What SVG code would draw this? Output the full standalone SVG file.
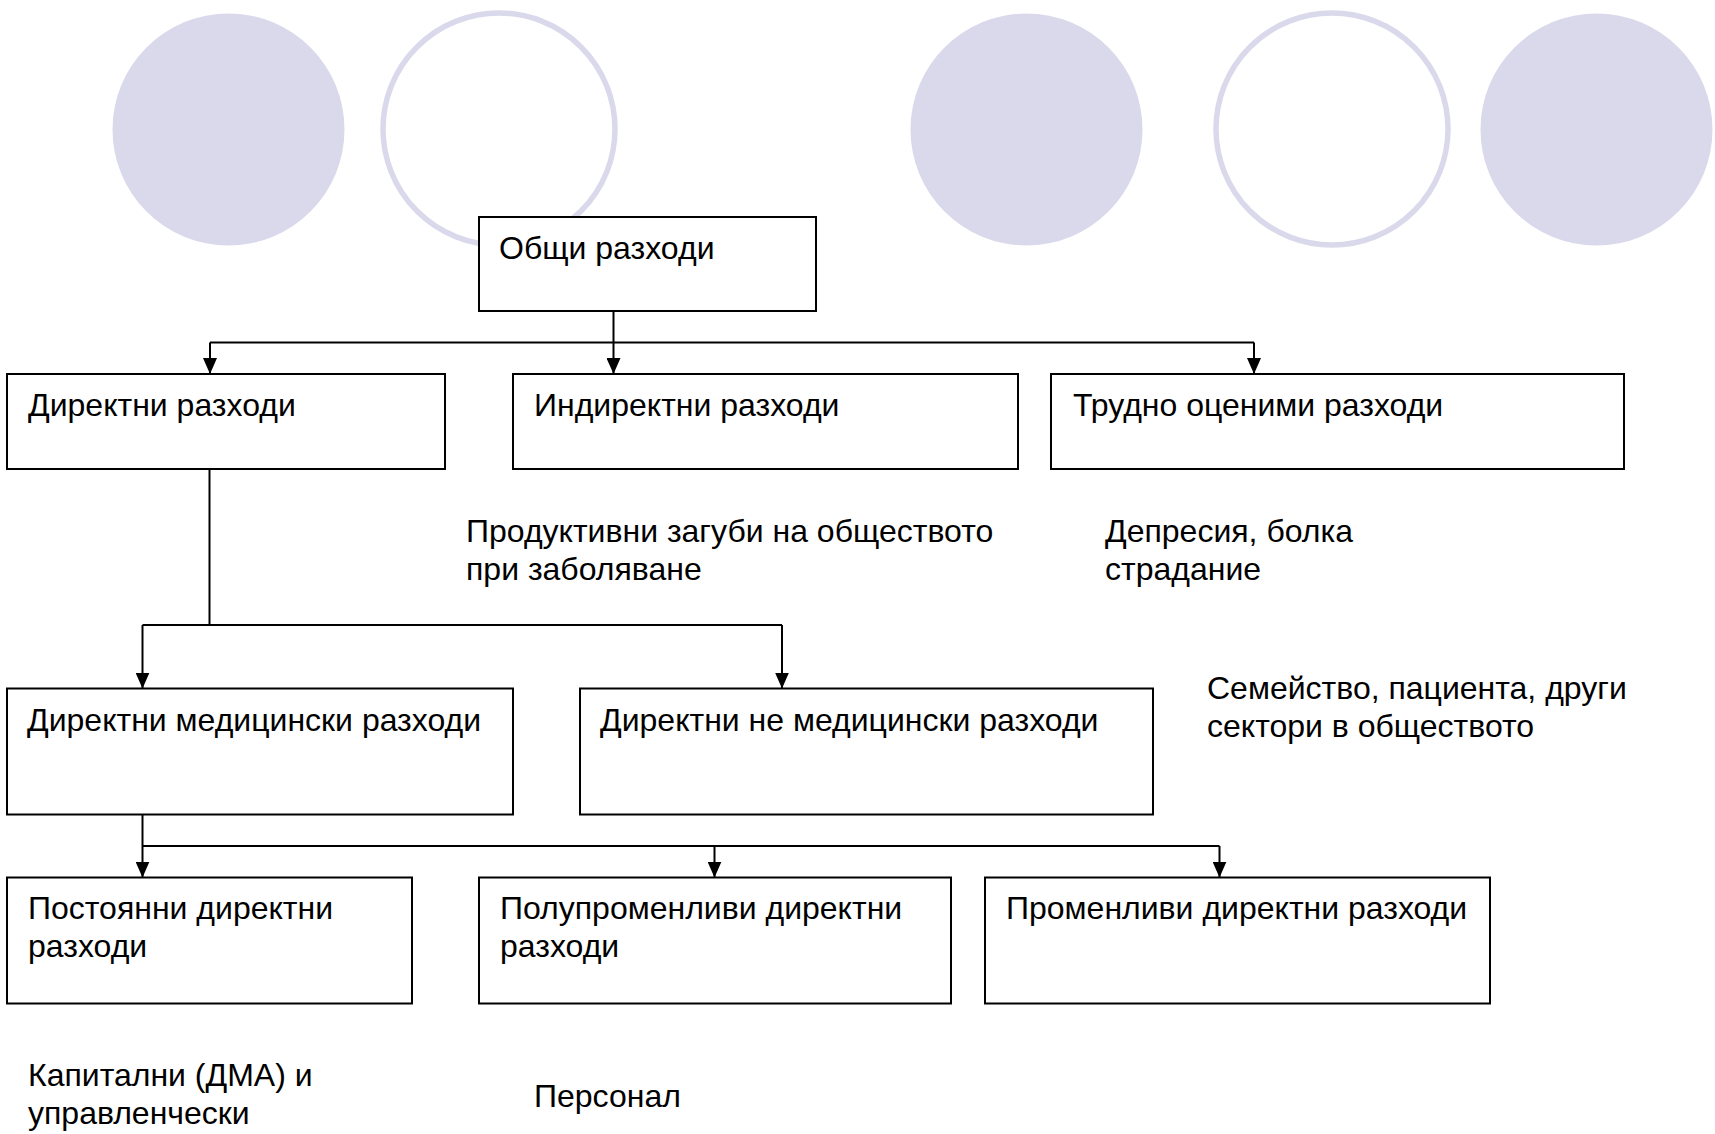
<svg xmlns="http://www.w3.org/2000/svg" width="1715" height="1134" viewBox="0 0 1715 1134">
<defs>
<style>
.bg{fill:#ffffff}
.dot{fill:#dad9ec}
.ring{fill:none;stroke:#dad9ec;stroke-width:5.5}
.box{fill:#ffffff;stroke:#000000;stroke-width:2}
.t{font-family:"Liberation Sans",Arial,sans-serif;font-size:32px;fill:#000000}
.c{fill:none;stroke:#000000;stroke-width:2}
</style>
<marker id="arr" markerUnits="userSpaceOnUse" markerWidth="16" markerHeight="14" refX="16" refY="7" orient="auto">
<path d="M0,0 L16,7 L0,14 z" fill="#000000"/>
</marker>
</defs>
<rect class="bg" x="0" y="0" width="1715" height="1134"/>
<g id="decor">
<circle class="dot" cx="228.5" cy="129.5" r="116"/>
<circle class="ring" cx="499" cy="129" r="116"/>
<circle class="dot" cx="1026.5" cy="129.5" r="116"/>
<circle class="ring" cx="1332" cy="129" r="116"/>
<circle class="dot" cx="1596.5" cy="129.5" r="116"/>
</g>
<g id="connectors">
<path class="c" d="M613.5,311 V342.5"/>
<path class="c" d="M210,342.5 H1254"/>
<path class="c" d="M210,342.5 V374" marker-end="url(#arr)"/>
<path class="c" d="M613.5,342.5 V374" marker-end="url(#arr)"/>
<path class="c" d="M1254,342.5 V374" marker-end="url(#arr)"/>
<path class="c" d="M209.5,469 V625"/>
<path class="c" d="M142.5,625 H782"/>
<path class="c" d="M142.5,625 V688.5" marker-end="url(#arr)"/>
<path class="c" d="M782,625 V688.5" marker-end="url(#arr)"/>
<path class="c" d="M142.5,814.5 V877.5" marker-end="url(#arr)"/>
<path class="c" d="M142.5,846 H1219.5"/>
<path class="c" d="M714.5,846 V877.5" marker-end="url(#arr)"/>
<path class="c" d="M1219.5,846 V877.5" marker-end="url(#arr)"/>
</g>
<g id="n-total">
<rect class="box" x="479" y="217" width="337" height="94"/>
<text class="t" x="499" y="259">Общи разходи</text>
</g>
<g id="n-direct">
<rect class="box" x="7" y="374" width="438" height="95"/>
<text class="t" x="28" y="416">Директни разходи</text>
</g>
<g id="n-indirect">
<rect class="box" x="513" y="374" width="505" height="95"/>
<text class="t" x="534" y="416">Индиректни разходи</text>
</g>
<g id="n-hard">
<rect class="box" x="1051" y="374" width="573" height="95"/>
<text class="t" x="1073" y="416">Трудно оценими разходи</text>
</g>
<g id="l-productive">
<text class="t" x="466" y="542">Продуктивни загуби на обществото</text>
<text class="t" x="466" y="580">при заболяване</text>
</g>
<g id="l-depression">
<text class="t" x="1105" y="542">Депресия, болка</text>
<text class="t" x="1105" y="580">страдание</text>
</g>
<g id="n-direct-med">
<rect class="box" x="7" y="688.5" width="506" height="126"/>
<text class="t" x="27" y="731">Директни медицински разходи</text>
</g>
<g id="n-direct-nonmed">
<rect class="box" x="580" y="688.5" width="573" height="126"/>
<text class="t" x="600" y="731">Директни не медицински разходи</text>
</g>
<g id="l-family">
<text class="t" x="1207" y="699">Семейство, пациента, други</text>
<text class="t" x="1207" y="737">сектори в обществото</text>
</g>
<g id="n-fixed">
<rect class="box" x="7" y="877.5" width="405" height="126"/>
<text class="t" x="28" y="919">Постоянни директни</text>
<text class="t" x="28" y="957">разходи</text>
</g>
<g id="n-semivar">
<rect class="box" x="479" y="877.5" width="472" height="126"/>
<text class="t" x="500" y="919">Полупроменливи директни</text>
<text class="t" x="500" y="957">разходи</text>
</g>
<g id="n-var">
<rect class="box" x="985" y="877.5" width="505" height="126"/>
<text class="t" x="1006" y="919">Променливи директни разходи</text>
</g>
<g id="l-capital">
<text class="t" x="28" y="1086">Капитални (ДМА) и</text>
<text class="t" x="28" y="1124">управленчески</text>
</g>
<g id="l-personnel">
<text class="t" x="534" y="1107">Персонал</text>
</g>
</svg>
